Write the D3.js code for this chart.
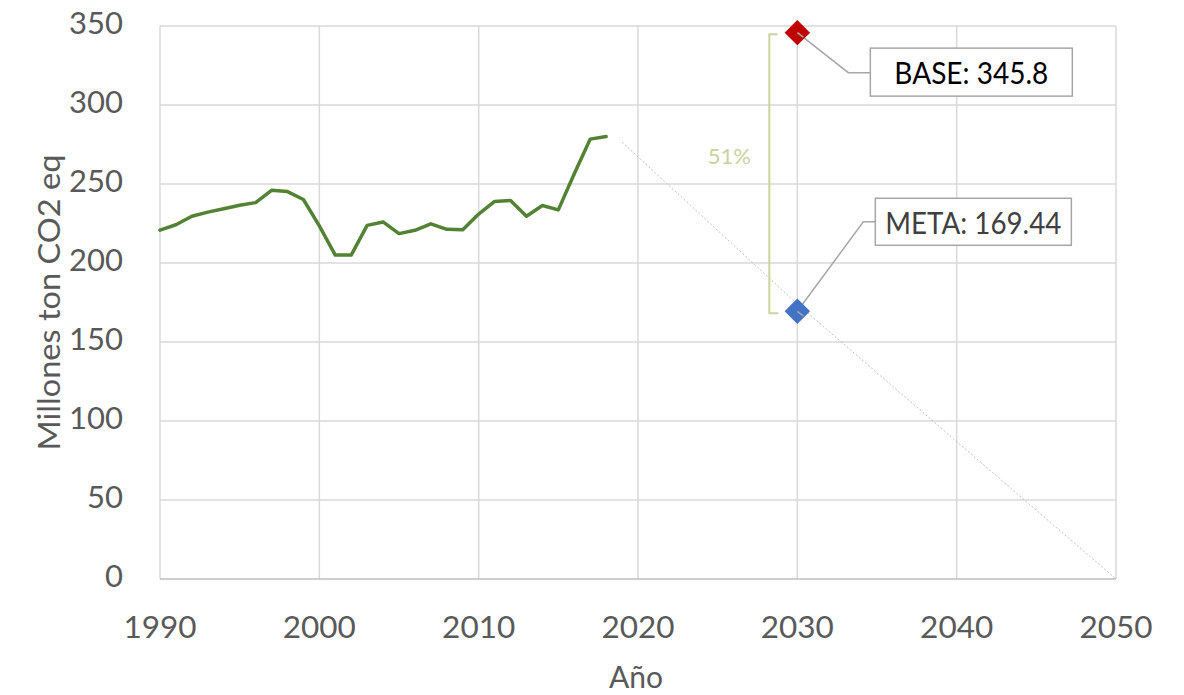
<!DOCTYPE html>
<html>
<head>
<meta charset="utf-8">
<script src="https://cdn.jsdelivr.net/npm/d3@7"></script>
<style>
  html, body { margin: 0; padding: 0; background: #ffffff; }
  svg { display: block; }
  text { font-family: Lato, "Open Sans", sans-serif; }
</style>
</head>
<body>
<svg id="chart" width="1184" height="695"></svg>
<script>
// Historical emissions (millions of tonnes CO2 eq)
const years = [1990, 1991, 1992, 1993, 1994, 1995, 1996, 1997, 1998, 1999,
               2000, 2001, 2002, 2003, 2004, 2005, 2006, 2007, 2008, 2009,
               2010, 2011, 2012, 2013, 2014, 2015, 2016, 2017, 2018];
const emissions = [220.8, 224.2, 229.6, 232.2, 234.3, 236.6, 238.2, 246.0, 245.2, 240.2,
                   223.5, 205.0, 205.0, 223.8, 226.0, 218.6, 220.7, 224.8, 221.3, 221.0,
                   231.0, 239.0, 239.6, 229.6, 236.4, 233.6, 256.5, 278.4, 280.0];

// Projected pathway towards zero
const projYears = [2019, 2030, 2050];
const projValues = [276.5, 174, 0];

// 2030 reference points
const targetYear = 2030;
const baseValue = 345.8;
const metaValue = 169.44;

const xTicks = [1990, 2000, 2010, 2020, 2030, 2040, 2050];
const yTicks = [0, 50, 100, 150, 200, 250, 300, 350];

const svg = d3.select("#chart");
const x = d3.scaleLinear().domain([1990, 2050]).range([160, 1116]);
const y = d3.scaleLinear().domain([0, 350]).range([579, 26]);

const grid = svg.append("g");
// horizontal gridlines
grid.selectAll("line.h").data(yTicks.filter(d => d > 0)).join("line")
  .attr("x1", x(1990)).attr("x2", x(2050))
  .attr("y1", d => y(d)).attr("y2", d => y(d))
  .attr("stroke", "#d9d9d9").attr("stroke-width", 1.5);
// vertical gridlines
grid.selectAll("line.v").data(xTicks).join("line")
  .attr("x1", d => x(d)).attr("x2", d => x(d))
  .attr("y1", y(0)).attr("y2", y(350))
  .attr("stroke", "#d9d9d9").attr("stroke-width", 1.5);
// baseline axis
grid.append("line")
  .attr("x1", x(1990)).attr("x2", x(2050))
  .attr("y1", y(0)).attr("y2", y(0))
  .attr("stroke", "#bfbfbf").attr("stroke-width", 1.5);

// tick labels
svg.append("g").selectAll("text").data(yTicks).join("text")
  .attr("x", 123).attr("y", d => y(d) + 8)
  .attr("text-anchor", "end")
  .attr("font-size", 31).attr("fill", "#595959")
  .text(d => d);

svg.append("g").selectAll("text").data(xTicks).join("text")
  .attr("x", d => x(d)).attr("y", 638)
  .attr("text-anchor", "middle")
  .attr("font-size", 31.5).attr("fill", "#595959")
  .text(d => d);

// axis titles
svg.append("text")
  .attr("transform", `translate(60, ${(y(0) + y(350)) / 2}) rotate(-90)`)
  .attr("text-anchor", "middle")
  .attr("font-size", 31).attr("fill", "#595959")
  .attr("textLength", 296).attr("lengthAdjust", "spacingAndGlyphs")
  .text("Millones ton CO2 eq");

svg.append("text")
  .attr("x", (x(1990) + x(2050)) / 2 - 2).attr("y", 688)
  .attr("text-anchor", "middle")
  .attr("font-size", 30).attr("fill", "#595959")
  .text("Año");

// projection
const proj = projYears.map((d, i) => [d, projValues[i]]);
svg.append("path")
  .datum(proj)
  .attr("d", d3.line().x(d => x(d[0])).y(d => y(d[1])))
  .attr("fill", "none")
  .attr("stroke", "#bfbfbf").attr("stroke-width", 1)
  .attr("stroke-dasharray", "2,2");

// historical series
const hist = years.map((d, i) => [d, emissions[i]]);
svg.append("path")
  .datum(hist)
  .attr("d", d3.line().x(d => x(d[0])).y(d => y(d[1])))
  .attr("fill", "none")
  .attr("stroke", "#548235").attr("stroke-width", 3.5)
  .attr("stroke-linejoin", "round").attr("stroke-linecap", "round");

// reduction bracket
const bx = x(targetYear) - 28;
const bTop = y(baseValue) + 1.5, bBot = y(metaValue) + 2;
svg.append("path")
  .attr("d", `M${bx + 8},${bTop} H${bx} V${bBot} H${bx + 9}`)
  .attr("fill", "none").attr("stroke", "#c9d3a0").attr("stroke-width", 2);
const pct = Math.round((baseValue - metaValue) / baseValue * 100);
svg.append("text")
  .attr("x", bx - 40).attr("y", 164)
  .attr("text-anchor", "middle")
  .attr("font-size", 22).attr("fill", "#c9d3a0")
  .text(pct + "%");

// callouts
function callout(val, color, label, textColor, elbow, box, textW) {
  const px = x(targetYear), py = y(val);
  svg.append("path")
    .attr("d", `M${px},${py} L${px + elbow[0]},${py + elbow[1]} H${px + box[0]}`)
    .attr("fill", "none").attr("stroke", "#a6a6a6").attr("stroke-width", 1.5);
  svg.append("rect")
    .attr("x", px - 9).attr("y", py - 9).attr("width", 18).attr("height", 18)
    .attr("transform", `rotate(45, ${px}, ${py})`)
    .attr("fill", color);
  svg.append("line")
    .attr("x1", px).attr("y1", py).attr("x2", px + 6).attr("y2", py + 4.5)
    .attr("stroke", "#a6a6a6").attr("stroke-width", 1.5);
  svg.append("rect")
    .attr("x", px + box[0]).attr("y", py + box[1])
    .attr("width", box[2]).attr("height", box[3])
    .attr("fill", "#ffffff").attr("stroke", "#a6a6a6").attr("stroke-width", 1.5);
  svg.append("text")
    .attr("x", px + box[0] + box[2] / 2).attr("y", py + box[1] + 35.5)
    .attr("text-anchor", "middle")
    .attr("font-size", 30).attr("fill", textColor)
    .attr("textLength", textW).attr("lengthAdjust", "spacingAndGlyphs")
    .text(label);
}
callout(baseValue, "#c00000", "BASE: " + baseValue, "#000000",
        [51, 40], [73, 15.5, 202, 48], 154);
callout(metaValue, "#4472c4", "META: " + metaValue, "#404040",
        [66, -89.5], [78, -113, 196, 47], 176);
</script>
</body>
</html>
